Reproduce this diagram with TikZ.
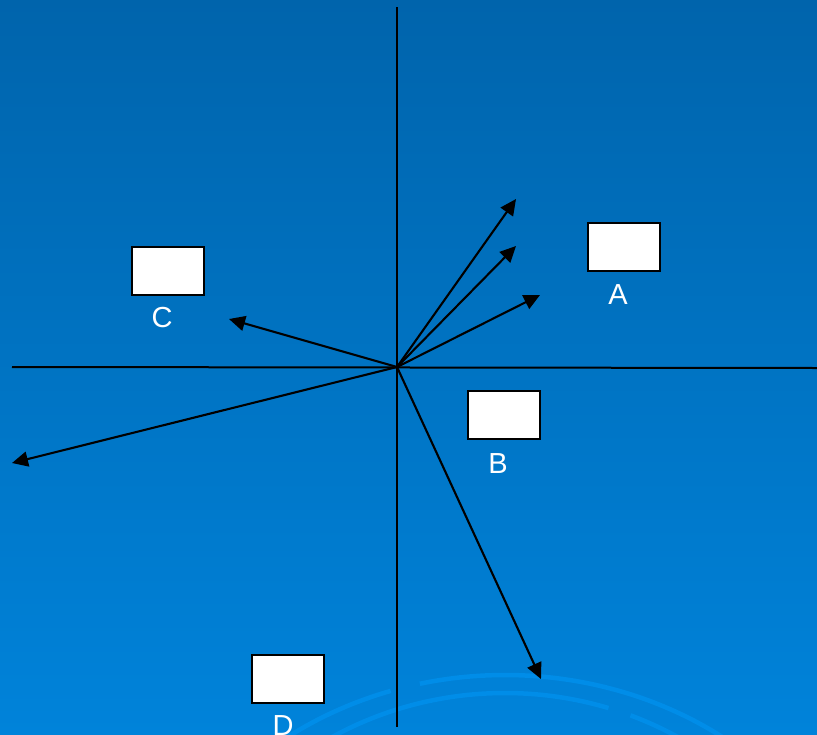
\documentclass[tikz,border=0pt]{standalone}
\usepackage{fontspec}
\setmainfont{Liberation Sans}
\usetikzlibrary{arrows.meta}
\definecolor{bgtop}{RGB}{0,100,172}
\definecolor{bgmid}{RGB}{0,106,182}
\definecolor{bgbot}{RGB}{0,131,218}
\definecolor{arcblue}{RGB}{0,141,232}
\begin{document}
\begin{tikzpicture}[x=1pt,y=-1pt,
  axisline/.style={line width=2pt, black},
  vec/.style={line width=2.1pt, black, -{Triangle[length=16pt,width=15pt]}},
  box/.style={draw=black, line width=1.8pt, fill=white, minimum width=72pt, minimum height=48pt, inner sep=0pt},
  lbl/.style={text=white, font=\fontsize{29}{29}\selectfont, anchor=base, inner sep=0pt},
  deco/.style={arcblue, line width=4.5pt}]
\useasboundingbox (0,0) rectangle (817,734);
\shade[top color=bgtop, middle color=bgmid, bottom color=bgbot] (0,0) rectangle (817,734);
% decorative arcs
\begin{scope}
\clip (0,0) rectangle (817,734);
\draw[deco] plot[domain=-128:-108, samples=30] ({505+370*cos(\x)}, {1000+325*sin(\x)});
\draw[deco] plot[domain=-103.3:-50, samples=60] ({505+370*cos(\x)}, {1000+325*sin(\x)});
\draw[deco] plot[domain=-122:-72, samples=60] ({505+335*cos(\x)}, {1000+307*sin(\x)});
\draw[deco] plot[domain=-68:-52, samples=30] ({505+335*cos(\x)}, {1000+307*sin(\x)});
\end{scope}
% axes
\coordinate (O) at (397,367);
\coordinate (vt) at (397,7);
\coordinate (vb) at (397,727);
\coordinate (hl) at (12,367);
\coordinate (hr) at (817,368);
\draw[axisline] (vt) -- (vb);
\draw[axisline] (hl) -- (hr);
% vectors
\coordinate (e1) at (516,199);
\coordinate (e2) at (516,246);
\coordinate (e3) at (540,295);
\coordinate (e4) at (229,319);
\coordinate (e5) at (12,463);
\coordinate (e6) at (541,679);
\foreach \e in {e1,e2,e3,e4,e5,e6} \draw[vec] (O) -- (\e);
% boxes and labels
\node[box] (boxA) at (624,247) {};
\node[lbl] (labA) at (618,304) {A};
\node[box] (boxB) at (504,415) {};
\node[lbl] (labB) at (498,473) {B};
\node[box] (boxC) at (168,271) {};
\node[lbl] (labC) at (162,327) {C};
\node[box] (boxD) at (288,679) {};
\node[lbl] (labD) at (283,735) {D};
\end{tikzpicture}
\end{document}
